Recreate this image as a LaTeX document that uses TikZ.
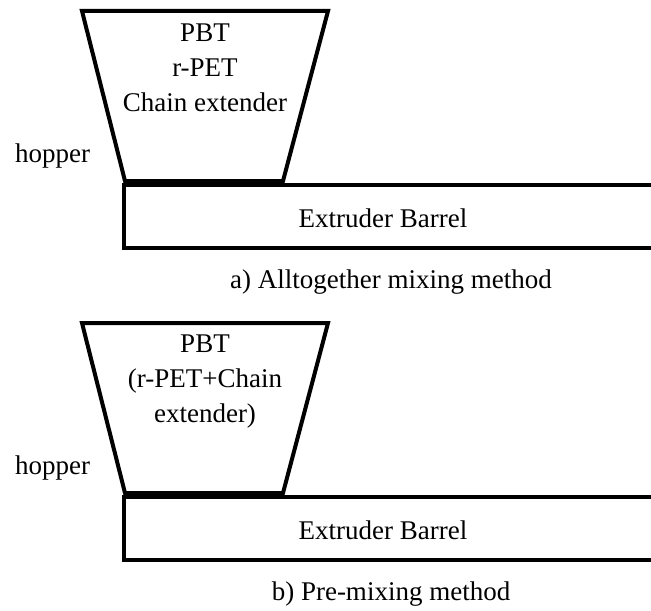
\documentclass[tikz,border=0pt]{standalone}
\usepackage{fontspec}
\setmainfont{Liberation Serif}
\begin{document}
\begin{tikzpicture}[x=0.5pt,y=-0.5pt,
  wall/.style={line width=2pt,line join=miter},
  lbl/.style={inner sep=0pt,font=\fontsize{13.5}{17.5}\selectfont,align=center}]
\useasboundingbox (0,0) rectangle (651,610);
% one hopper feeding an extruder barrel per panel, shifted down by \dy
\foreach \dy/\my/\mix/\cap/\nm in {0/68/{PBT\\r-PET\\Chain extender}/{a) Alltogether mixing method}/a,
                                   312/70/{PBT\\(r-PET+Chain\\extender)}/{b) Pre-mixing method}/b}{
  \begin{scope}[yshift=-\dy*0.5pt]
    % hopper (trapezoid)
    \draw[wall] (82,11) -- (328,11) -- (283,181) -- (125,181) -- cycle;
    % barrel, open towards the right
    \draw[wall] (651,185) -- (124,185) -- (124,248) -- (651,248);
    \node[lbl] (mix\nm) at (205,\my) {\mix};
    \node[lbl,anchor=base] (hop\nm) at (52.5,162) {hopper};
    \node[lbl] (bar\nm) at (383,218) {Extruder Barrel};
    \node[lbl] (cap\nm) at (391,282) {\cap};
  \end{scope}
}
\end{tikzpicture}
\end{document}
